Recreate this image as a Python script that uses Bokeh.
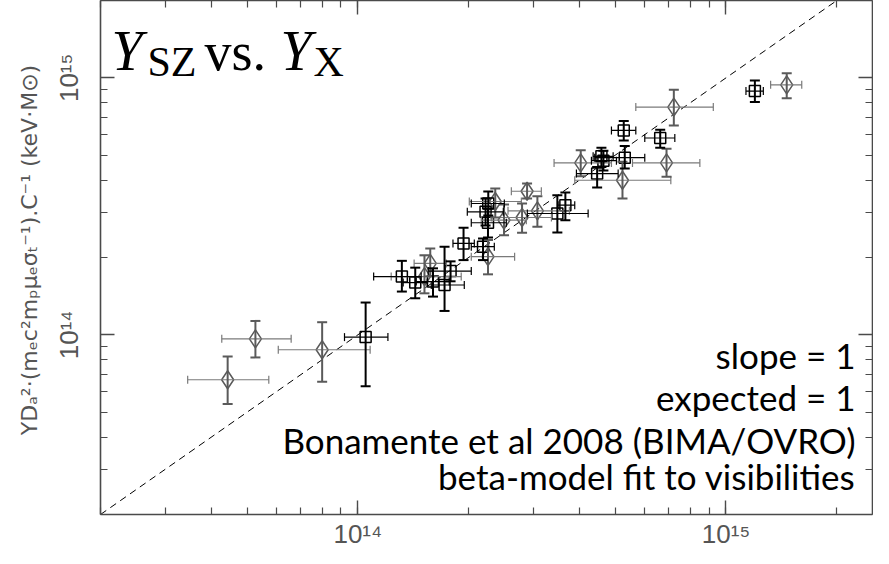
import numpy as np
from bokeh.plotting import figure
from bokeh.models import (ColumnDataSource, Whisker, TeeHead, Label, LogAxis,
                          FixedTicker, Range1d, CustomJSTickFormatter)
from bokeh.embed import file_html
from bokeh.resources import INLINE

U = 1e14  # values below are in units of 1e14

# ---- black squares ----
sq_x = [1.050, 1.317, 1.432, 1.600, 1.720, 1.786, 1.937, 2.188, 2.223, 2.257, 2.261,
        3.483, 3.662, 4.467, 4.588, 4.646, 5.309, 5.276, 6.627, 11.98]
sq_x_lo = [0.920, 1.104, 1.328, 1.441, 1.583, 1.553, 1.813, 2.033, 1.983, 2.033, 2.033,
           2.887, 3.499, 3.924, 4.356, 4.310, 4.400, 4.885, 6.017, 11.33]
sq_x_hi = [1.207, 1.486, 1.543, 1.771, 1.946, 2.033, 2.072, 2.348, 2.484, 2.531, 2.500,
           4.222, 3.883, 5.094, 4.937, 5.040, 6.017, 5.689, 7.261, 12.63]
sq_y = [0.980, 1.686, 1.597, 1.612, 1.563, 1.771, 2.269, 2.203, 3.012, 2.730, 3.244,
        2.967, 3.195, 4.241, 4.950, 4.764, 4.893, 6.246, 5.834, 8.880]
sq_y_lo = [0.631, 1.474, 1.388, 1.409, 1.239, 1.616, 1.954, 1.954, 2.665, 2.394, 2.914,
           2.503, 2.795, 3.742, 4.503, 4.356, 4.435, 5.710, 5.350, 8.048]
sq_y_hi = [1.336, 1.941, 1.826, 1.815, 2.203, 1.932, 2.611, 2.373, 3.393, 3.102, 3.611,
           3.494, 3.579, 4.503, 5.350, 5.209, 5.433, 6.792, 6.285, 9.761]

# ---- grey diamonds ----
dm_x = [0.443, 0.527, 0.800, 1.517, 1.573, 2.257, 2.362, 2.495, 2.793, 2.882, 3.074,
        4.031, 5.234, 6.894, 7.216, 14.62]
dm_x_lo = [0.345, 0.427, 0.608, 1.232, 1.422, 2.033, 2.008, 2.164, 2.304, 2.612, 2.558,
           3.412, 3.883, 5.572, 5.689, 13.22]
dm_x_hi = [0.573, 0.659, 1.080, 1.909, 1.739, 2.666, 2.781, 2.869, 3.356, 3.151, 3.755,
           4.885, 7.082, 8.492, 9.237, 16.06]
dm_y = [0.669, 0.965, 0.875, 1.686, 1.897, 2.015, 3.303, 2.795, 2.862, 3.621, 3.039,
        4.667, 3.995, 4.667, 7.695, 9.394]
dm_y_lo = [0.538, 0.817, 0.657, 1.451, 1.690, 1.720, 2.862, 2.443, 2.497, 3.393, 2.634,
           4.140, 3.393, 4.119, 6.530, 8.340]
dm_y_hi = [0.824, 1.133, 1.120, 2.039, 2.170, 2.337, 3.710, 3.215, 3.244, 3.879, 3.463,
           5.223, 4.721, 5.302, 8.983, 10.43]

X_RANGE = (2e13, 2.5e15)
Y_RANGE = (2e13, 2e15)
major_ticks = [1e14, 1e15]
minor_mant = [2, 3, 4, 5, 6, 7, 8, 9]
minor_decades = [1e13, 1e14, 1e15]

y_label = ("\u2002\u2002YD\u2090\u00b2\u00b7(m\u2091c\u00b2m\u209a\u03bc\u2091\u03c3\u209c"
           "\u207b\u00b9).C\u207b\u00b9  (keV\u00b7M\u2299)")
text_lines = ["slope = 1", "expected = 1",
              "Bonamente et al 2008 (BIMA/OVRO)", "beta-model fit to visibilities"]


def scaled(a):
    return [v * U for v in a]


AX = "#4a4a4a"
GREY = "#5a5a5a"
LGREY = "#7a7a7a"
TXTGREY = "#555555"

p = figure(x_axis_type="log", y_axis_type="log",
           x_range=Range1d(*X_RANGE), y_range=Range1d(*Y_RANGE),
           frame_width=772, frame_height=514,
           min_border_left=100, min_border_right=1, min_border_top=0, min_border_bottom=34,
           output_backend="svg", toolbar_location=None)
p.xgrid.visible = False
p.ygrid.visible = False
p.outline_line_color = None
p.background_fill_color = "white"
p.border_fill_color = "white"

minor = [m * d for d in minor_decades for m in minor_mant] + major_ticks
ticker = FixedTicker(ticks=major_ticks, minor_ticks=minor)
blank = CustomJSTickFormatter(code="return '';")
power = CustomJSTickFormatter(code="""
const sup = {"0":"\\u2070","1":"\\u00b9","2":"\\u00b2","3":"\\u00b3","4":"\\u2074",
             "5":"\\u2075","6":"\\u2076","7":"\\u2077","8":"\\u2078","9":"\\u2079","-":"\\u207b"};
const e = Math.round(Math.log10(tick));
return "10" + String(e).split("").map(c => sup[c]).join("");
""")


def style_axis(ax, labelled):
    ax.ticker = ticker
    ax.major_tick_in = 14
    ax.major_tick_out = 0
    ax.minor_tick_in = 7
    ax.minor_tick_out = 0
    ax.axis_line_color = AX
    ax.axis_line_width = 1.6
    ax.major_tick_line_color = AX
    ax.major_tick_line_width = 1.4
    ax.minor_tick_line_color = AX
    ax.minor_tick_line_width = 1.2
    if labelled:
        ax.formatter = power
        ax.major_label_text_font = "Liberation Sans"
        ax.major_label_text_font_size = "26px"
        ax.major_label_text_color = TXTGREY
    else:
        ax.formatter = blank
        ax.major_label_text_font_size = "2px"
        ax.major_label_standoff = 0


for ax in p.xaxis:
    style_axis(ax, True)
    ax.major_label_standoff = 4
for ax in p.yaxis:
    style_axis(ax, True)
    ax.major_label_orientation = "vertical"
    ax.major_label_standoff = 16
    ax.axis_label = y_label
    ax.axis_label_text_font = "DejaVu Sans"
    ax.axis_label_text_font_size = "22px"
    ax.axis_label_text_font_style = "normal"
    ax.axis_label_text_color = TXTGREY
    ax.axis_label_standoff = 10

top = LogAxis()
style_axis(top, False)
p.add_layout(top, "above")
right = LogAxis()
style_axis(right, False)
p.add_layout(right, "right")

# y = x reference line
p.line(x=[X_RANGE[0], Y_RANGE[1]], y=[X_RANGE[0], Y_RANGE[1]],
       line_color="black", line_width=1, line_dash="7 5")

src_sq = ColumnDataSource(dict(x=scaled(sq_x), y=scaled(sq_y), xlo=scaled(sq_x_lo),
                               xhi=scaled(sq_x_hi), ylo=scaled(sq_y_lo), yhi=scaled(sq_y_hi)))
src_dm = ColumnDataSource(dict(x=scaled(dm_x), y=scaled(dm_y), xlo=scaled(dm_x_lo),
                               xhi=scaled(dm_x_hi), ylo=scaled(dm_y_lo), yhi=scaled(dm_y_hi)))


def add_err(src, ycol, xcol):
    wx = Whisker(source=src, base="y", lower="xlo", upper="xhi", dimension="width",
                 line_color=xcol, line_width=1.2,
                 lower_head=TeeHead(size=8, line_color=xcol, line_width=1.2),
                 upper_head=TeeHead(size=8, line_color=xcol, line_width=1.2), level="glyph")
    wy = Whisker(source=src, base="x", lower="ylo", upper="yhi", dimension="height",
                 line_color=ycol, line_width=2,
                 lower_head=TeeHead(size=10, line_color=ycol, line_width=2),
                 upper_head=TeeHead(size=10, line_color=ycol, line_width=2), level="glyph")
    p.add_layout(wx)
    p.add_layout(wy)


add_err(src_dm, GREY, LGREY)
p.scatter("x", "y", source=src_dm, marker="diamond", size=18, fill_color=None,
          line_color=GREY, line_width=1.5)
add_err(src_sq, "black", "black")
p.scatter("x", "y", source=src_sq, marker="square", size=11, fill_color=None,
          line_color="black", line_width=1.5)

# ---------- text annotations (frame-relative, from reference image coords) ----------
FL, FB = 108, 522
SHIFT = 0.33  # label anchor sits about a third of the font size above the baseline


def lab(text, ix, iy, size, font="Liberation Sans", color="black", style="normal",
        align="left"):
    p.add_layout(Label(x=ix - FL, y=FB - iy + SHIFT * size, x_units="screen",
                       y_units="screen", text=text, text_font=font,
                       text_font_size=f"{size}px", text_color=color,
                       text_font_style=style, text_align=align,
                       text_baseline="alphabetic"))


# title
SER = "Liberation Serif"
lab("Y", 119, 77, 56, SER, style="italic")
lab("SZ", 155, 83, 42, SER)
lab("vs.", 212, 77, 54, SER)
lab("Y", 288, 77, 56, SER, style="italic")
lab("X", 321, 83, 42, SER)

# annotation block
baselines = [374, 416, 459, 495]
for t, b in zip(text_lines, baselines):
    lab(t, 863, b, 35, "Lato", align="right")

open("out.html", "w", encoding="utf-8").write(file_html(p, INLINE))
